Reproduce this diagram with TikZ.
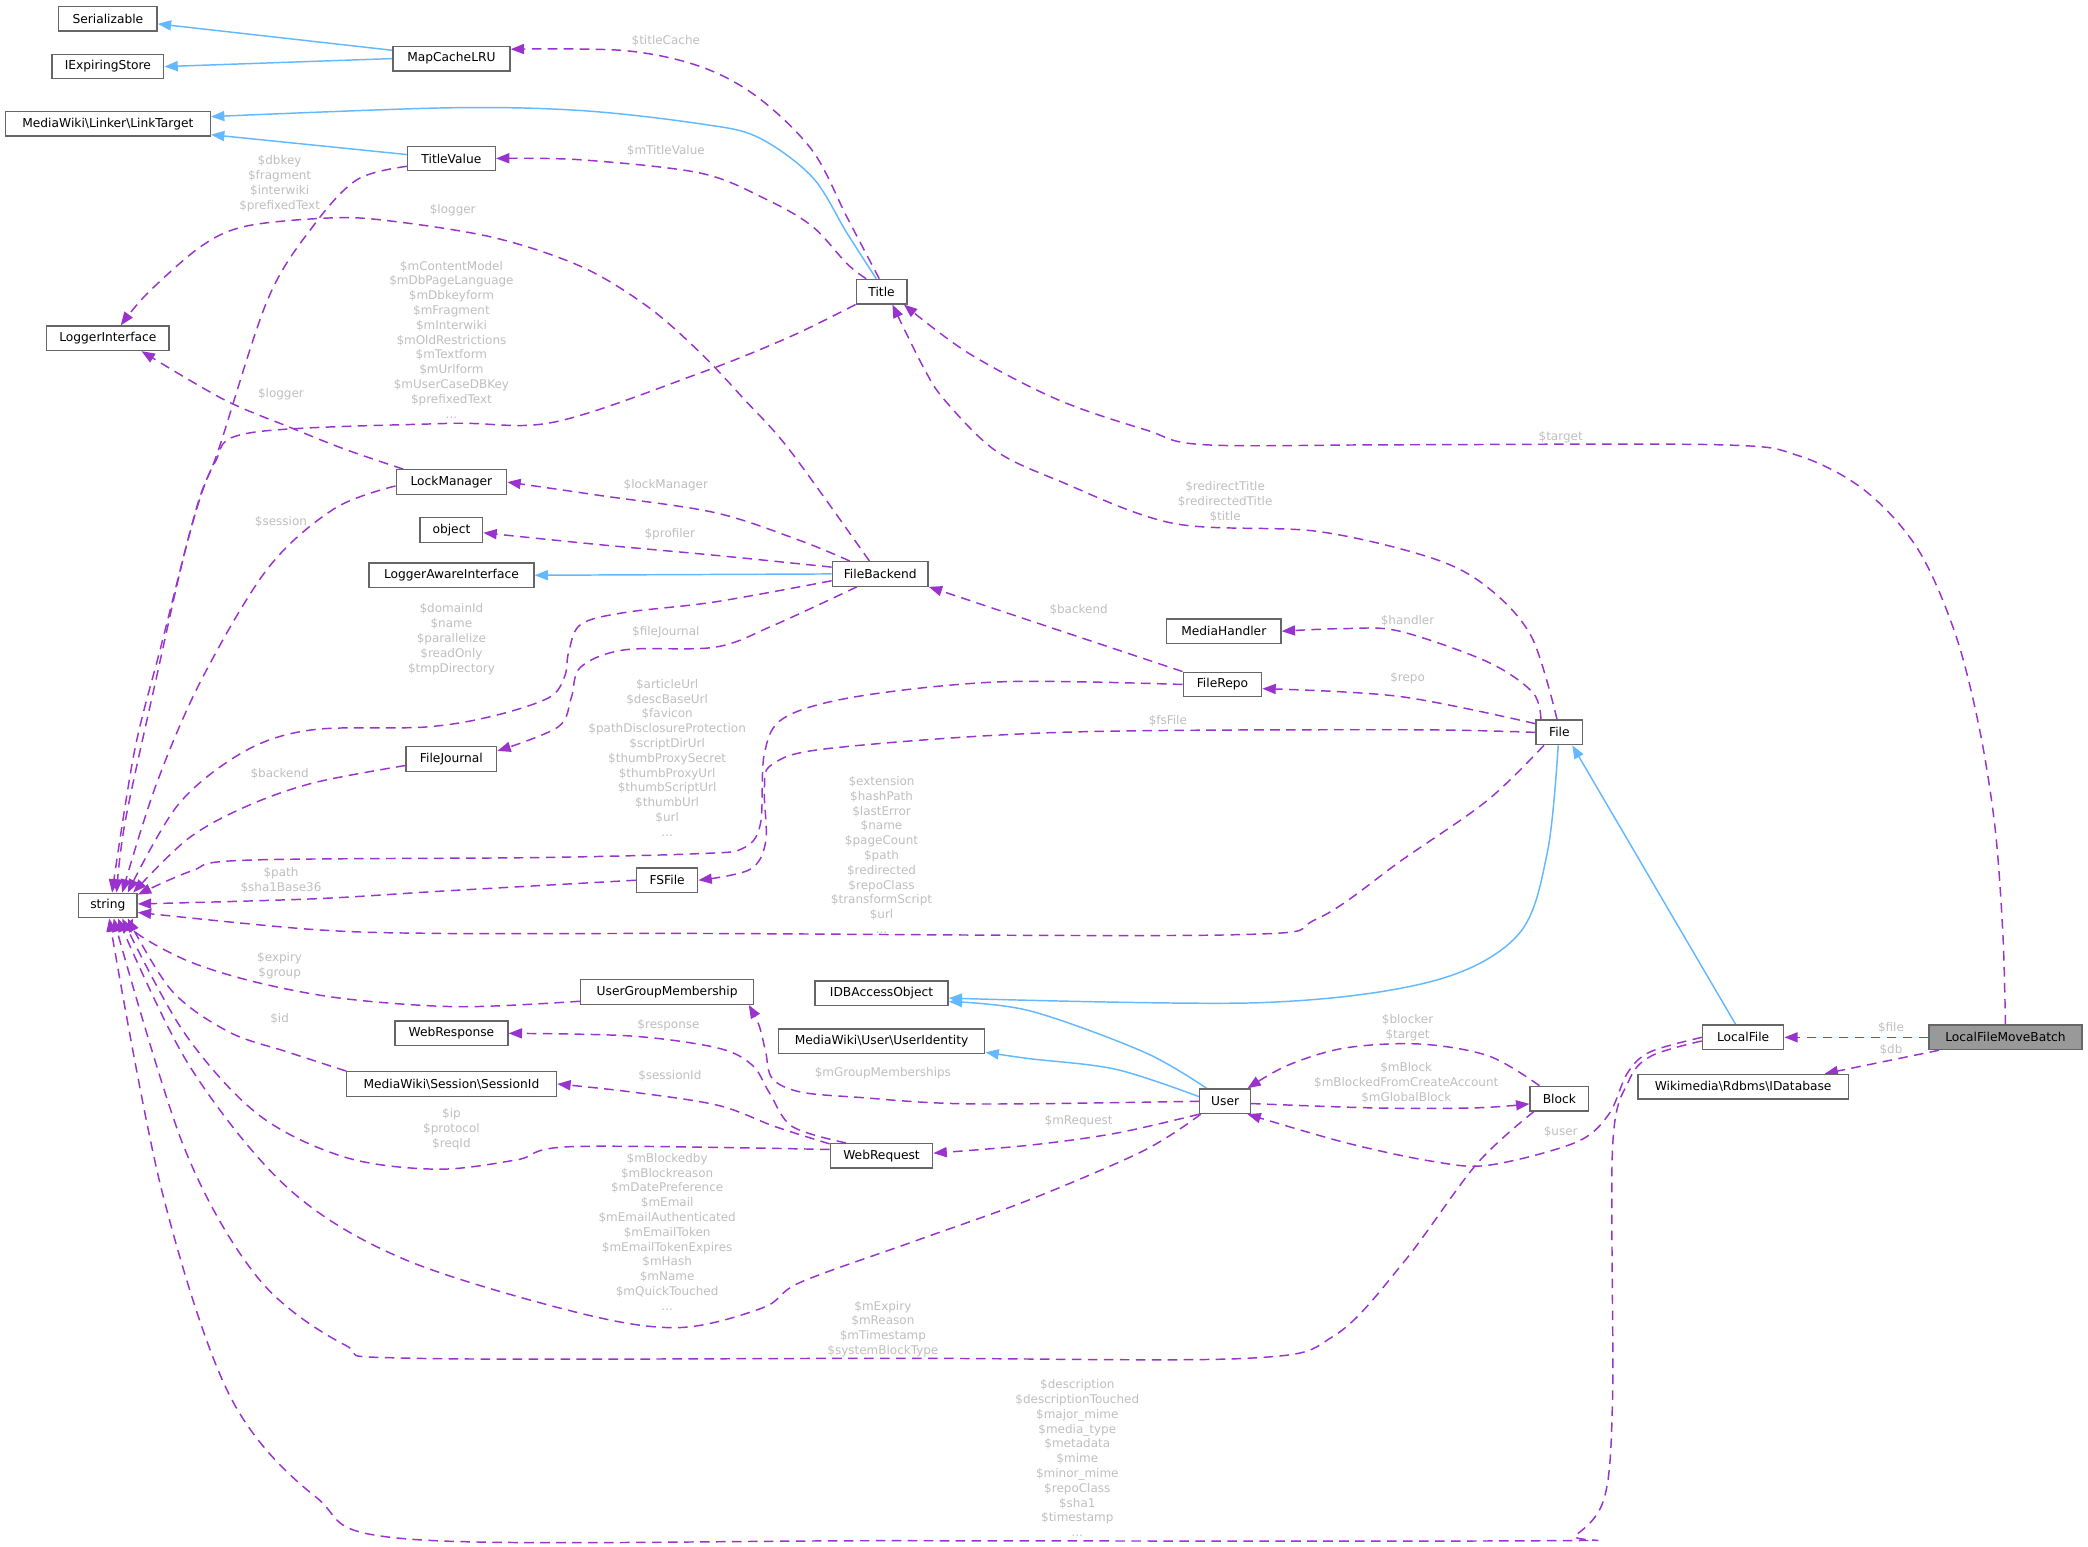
\documentclass[tikz,border=0pt]{standalone}
\usepackage{fontspec}
\setmainfont{DejaVu Sans}
\usetikzlibrary{arrows.meta}
\definecolor{usec}{RGB}{154,50,205}
\definecolor{inhc}{RGB}{99,184,255}
\definecolor{lblc}{RGB}{190,190,190}
\definecolor{bordc}{RGB}{102,102,102}
\definecolor{hlc}{RGB}{153,153,153}
\pgfdeclarelayer{edges}
\pgfsetlayers{edges,main}
\begin{document}
\begin{tikzpicture}[x=0.5pt,y=-0.5pt,
  cls/.style={draw=bordc, line width=0.5pt, fill=white, minimum height=9.2pt, inner sep=0pt, font=\fontsize{4.6}{5.5}\selectfont, text=black},
  lbl/.style={inner sep=0pt, align=center, text=lblc, font=\fontsize{4.5}{5.55}\selectfont},
  usee/.style={draw=usec, line width=0.55pt, dash pattern=on 3.6pt off 2.4pt, -{Triangle[length=5pt,width=3.8pt]}},
  inh/.style={draw=inhc, line width=0.55pt, -{Triangle[length=5pt,width=3.8pt]}},
  sm/.style={smooth, tension=0.55}
]
\useasboundingbox (0,0) rectangle (1568,1161);

% nodes
\node[cls, minimum width=37pt] (ser) at (81,14) {Serializable};
\node[cls, minimum width=42pt] (iexp) at (81,50) {IExpiringStore};
\node[cls, minimum width=44pt] (mapc) at (339,44) {MapCacheLRU};
\node[cls, minimum width=77pt] (lt) at (81,93) {MediaWiki\textbackslash Linker\textbackslash LinkTarget};
\node[cls, minimum width=33pt] (tv) at (339,119) {TitleValue};
\node[cls, minimum width=19pt] (title) at (662,219) {Title};
\node[cls, minimum width=46pt] (li) at (81,254) {LoggerInterface};
\node[cls, minimum width=41.5pt] (lm) at (339,362) {LockManager};
\node[cls, minimum width=23.5pt] (obj) at (339,398) {object};
\node[cls, minimum width=62pt] (lai) at (339,432) {LoggerAwareInterface};
\node[cls, minimum width=36pt] (fb) at (661,431) {FileBackend};
\node[cls, minimum width=43pt] (mh) at (919,474) {MediaHandler};
\node[cls, minimum width=29.5pt] (fr) at (918,514) {FileRepo};
\node[cls, minimum width=17.5pt] (file) at (1171,550) {File};
\node[cls, minimum width=34pt] (fj) at (339,570) {FileJournal};
\node[cls, minimum width=23pt] (fs) at (501,661) {FSFile};
\node[cls, minimum width=22pt] (str) at (81,680) {string};
\node[cls, minimum width=65pt] (ugm) at (501,745) {UserGroupMembership};
\node[cls, minimum width=50pt] (idb) at (662,746) {IDBAccessObject};
\node[cls, minimum width=42.5pt] (wresp) at (339,776) {WebResponse};
\node[cls, minimum width=30.5pt] (lf) at (1309,779) {LocalFile};
\node[cls, minimum width=57.5pt, fill=hlc] (lfmb) at (1506,779) {LocalFileMoveBatch};
\node[cls, minimum width=77.5pt] (uid) at (662,782) {MediaWiki\textbackslash User\textbackslash UserIdentity};
\node[cls, minimum width=79pt] (sid) at (339,814) {MediaWiki\textbackslash Session\textbackslash SessionId};
\node[cls, minimum width=79pt] (idbs) at (1309,816) {Wikimedia\textbackslash Rdbms\textbackslash IDatabase};
\node[cls, minimum width=19pt] (user) at (920,827) {User};
\node[cls, minimum width=22pt] (block) at (1171,825) {Block};
\node[cls, minimum width=38.5pt] (wreq) at (662,868) {WebRequest};

\begin{pgfonlayer}{edges}
% inheritance
\draw[inh] (mapc.172) -- (ser.-6);
\draw[inh] (mapc.west) -- (iexp.east);
\draw[inh] plot[sm] coordinates {(title.112) (636,175) (610,133) (569,103) (526,93) (436,83) (335,81) (lt.4)};
\draw[inh] (tv.175) -- (lt.-6);
\draw[inh] (fb.west) -- (lai.east);
\draw[inh] plot[sm] coordinates {(file.-95) (1162,640) (1140,702) (1075,737) (945,753) (idb.-4)};
\draw[inh] (lf.120) -- (file.-45);
\draw[inh] plot[sm] coordinates {(user.145) (859,790) (773,759) (idb.-7)};
\draw[inh] plot[sm] coordinates {(user.170) (838,803) (773,795) (uid.-6)};

% usage
\draw[usee] plot[sm] coordinates {(title.100) (636,163) (610,113) (569,73) (526,50) (469,38) (mapc.9)};
\draw[usee] plot[sm] coordinates {(title.140) (636,198) (610,170) (576,150) (526,130) (436,120) (tv.east)};
\draw[usee] plot[sm] coordinates {(title.south west) (593,253) (526,280) (416,317) (335,318) (188,325) (161,348) (141,406) (117,511) (94,617) (str.56)};
\draw[usee] plot[sm] coordinates {(tv.190) (268,135) (235,170) (201,225) (164,338) (148,380) (121,485) (101,564) (str.72)};
\draw[usee] plot[sm] coordinates {(fb.130) (593,338) (559,300) (526,265) (486,230) (436,200) (369,178) (285,165) (241,164) (184,170) (151,185) (111,220) (li.45)};
\draw[usee] plot[sm] coordinates {(lm.165) (258,337) (218,321) (168,300) (li.-21)};
\draw[usee] plot[sm] coordinates {(lm.184) (251,382) (201,427) (151,511) (117,590) (str.42)};
\draw[usee] plot[sm] coordinates {(fb.157) (601,406) (537,385) (450,372) (lm.east)};
\draw[usee] plot[sm] coordinates {(fb.172) (537,417) (450,409) (obj.-5)};
\draw[usee] plot[sm] coordinates {(fb.188) (537,452) (469,460) (436,469) (427,490) (424,508) (412,524) (369,538) (319,546) (235,548) (184,564) (134,604) (str.33)};
\draw[usee] plot[sm] coordinates {(fb.209) (580,470) (537,486) (469,488) (436,501) (429,524) (419,546) (fj.10)};
\draw[usee] plot[sm] coordinates {(fj.188) (235,588) (184,606) (141,630) (str.27)};
\draw[usee] (fr.north west) -- (fb.south east);
\draw[usee] plot[sm] coordinates {(fr.west) (752,512) (644,523) (589,539) (574,566) (571,619) (558,637) (526,641) (402,644) (184,646) (144,654) (str.20)};
\draw[usee] plot[sm] coordinates {(file.145) (1151,520) (1117,497) (1051,474) (1011,472) (mh.east)};
\draw[usee] plot[sm] coordinates {(file.160) (1051,523) (fr.-6)};
\draw[usee] plot[sm] coordinates {(file.west) (1051,548) (795,550) (623,562) (580,574) (574,592) (575,632) (563,653) (fs.east)};
\draw[usee] plot[sm] coordinates {(file.100) (1150,478) (1117,441) (1075,419) (989,399) (881,393) (795,361) (747,338) (709,300) (693,275) (title.-50)};
\draw[usee] plot[sm] coordinates {(file.220) (1117,601) (1054,645) (989,690) (925,702) (526,701) (335,701) (235,698) (str.-13)};
\draw[usee] plot[sm] coordinates {(fs.west) (335,669) (235,675) (str.3)};
\draw[usee] plot[sm] coordinates {(lfmb.north) (1504,700) (1498,620) (1486,545) (1468,475) (1440,412) (1400,368) (1350,342) (1290,334) (1051,334) (905,334) (861,323) (794,300) (727,265) (title.-30)};
\draw[usee] (lfmb.west) -- (lf.east);
\draw[usee] (lfmb.191) -- (idbs.9);
\draw[usee] plot[sm] coordinates {(ugm.186) (345,756) (259,750) (194,738) (142,722) (103,701) (str.-27)};
\draw[usee] plot[sm] coordinates {(sid.173) (216,790) (172,775) (129,744) (str.-33)};
\draw[usee] plot[sm] coordinates {(wreq.173) (431,861) (388,871) (328,878) (259,869) (194,837) (138,775) (str.-42)};
\draw[usee] plot[sm] coordinates {(wreq.167) (582,846) (539,830) (474,820) (sid.east)};
\draw[usee] plot[sm] coordinates {(wreq.160) (595,846) (578,821) (565,800) (539,787) (474,778) (wresp.east)};
\draw[usee] plot[sm] coordinates {(user.west) (730,829) (644,824) (601,820) (580,810) (575,790) (570,770) (ugm.-9)};
\draw[usee] plot[sm] coordinates {(user.south west) (838,851) (773,860) (wreq.3)};
\draw[usee] plot[sm] coordinates {(user.208) (859,864) (773,901) (687,932) (601,963) (573,982) (509,997) (431,985) (302,945) (216,892) (142,800) (str.-52)};
\draw[usee] plot[sm] coordinates {(block.147) (1118,793) (1066,784) (1010,787) (967,800) (user.30)};
\draw[usee] plot[sm] coordinates {(user.-5) (1032,832) (1107,832) (block.190)};
\draw[usee] plot[sm] coordinates {(block.207) (1109,874) (1054,948) (1002,1003) (937,1020) (676,1020) (310,1020) (259,1010) (194,960) (138,861) (str.-66)};
\draw[usee] plot[sm] coordinates {(lf.west) (1239,790) (1222,806) (1208,837) (1183,858) (1118,875) (1075,872) (1010,858) (user.-30)};
\draw[usee] plot[sm] coordinates {(lf.185) (1240,793) (1223,812) (1211,861) (1211,1047) (1205,1124) (1183,1153) (1161,1157) (676,1157) (310,1156) (237,1124) (172,1047) (121,892) (str.-84)};
\end{pgfonlayer}

% labels
\node[lbl] (l1) at (500,31) {\$titleCache};
\node[lbl] (l2) at (500,113) {\$mTitleValue};
\node[lbl] (l3) at (210,138) {\$dbkey\\\$fragment\\\$interwiki\\\$prefixedText};
\node[lbl] (l4) at (340,158) {\$logger};
\node[lbl] (l5) at (339,255) {\$mContentModel\\\$mDbPageLanguage\\\$mDbkeyform\\\$mFragment\\\$mInterwiki\\\$mOldRestrictions\\\$mTextform\\\$mUrlform\\\$mUserCaseDBKey\\\$prefixedText\\...};
\node[lbl] (l6) at (211,296) {\$logger};
\node[lbl] (l7) at (211,392) {\$session};
\node[lbl] (l8) at (500,364) {\$lockManager};
\node[lbl] (l9) at (503,401) {\$profiler};
\node[lbl] (l10) at (339,480) {\$domainId\\\$name\\\$parallelize\\\$readOnly\\\$tmpDirectory};
\node[lbl] (l11) at (500,475) {\$fileJournal};
\node[lbl] (l12) at (210,581) {\$backend};
\node[lbl] (l13) at (810,458) {\$backend};
\node[lbl] (l14) at (501,569) {\$articleUrl\\\$descBaseUrl\\\$favicon\\\$pathDisclosureProtection\\\$scriptDirUrl\\\$thumbProxySecret\\\$thumbProxyUrl\\\$thumbScriptUrl\\\$thumbUrl\\\$url\\...};
\node[lbl] (l15) at (1057,466) {\$handler};
\node[lbl] (l16) at (1057,509) {\$repo};
\node[lbl] (l17) at (877,541) {\$fsFile};
\node[lbl] (l18) at (920,377) {\$redirectTitle\\\$redirectedTitle\\\$title};
\node[lbl] (l19) at (662,642) {\$extension\\\$hashPath\\\$lastError\\\$name\\\$pageCount\\\$path\\\$redirected\\\$repoClass\\\$transformScript\\\$url\\...};
\node[lbl] (l20) at (211,661) {\$path\\\$sha1Base36};
\node[lbl] (l21) at (1172,328) {\$target};
\node[lbl] (l22) at (1420,772) {\$file};
\node[lbl] (l23) at (1420,788) {\$db};
\node[lbl] (l24) at (210,725) {\$expiry\\\$group};
\node[lbl] (l25) at (210,765) {\$id};
\node[lbl] (l26) at (502,770) {\$response};
\node[lbl] (l27) at (503,808) {\$sessionId};
\node[lbl] (l28) at (339,848) {\$ip\\\$protocol\\\$reqId};
\node[lbl] (l29) at (663,806) {\$mGroupMemberships};
\node[lbl] (l30) at (810,842) {\$mRequest};
\node[lbl] (l31) at (501,925) {\$mBlockedby\\\$mBlockreason\\\$mDatePreference\\\$mEmail\\\$mEmailAuthenticated\\\$mEmailToken\\\$mEmailTokenExpires\\\$mHash\\\$mName\\\$mQuickTouched\\...};
\node[lbl] (l32) at (1057,772) {\$blocker\\\$target};
\node[lbl] (l33) at (1056,813) {\$mBlock\\\$mBlockedFromCreateAccount\\\$mGlobalBlock};
\node[lbl] (l34) at (663,998) {\$mExpiry\\\$mReason\\\$mTimestamp\\\$systemBlockType};
\node[lbl] (l35) at (1172,850) {\$user};
\node[lbl] (l36) at (809,1095) {\$description\\\$descriptionTouched\\\$major\_mime\\\$media\_type\\\$metadata\\\$mime\\\$minor\_mime\\\$repoClass\\\$sha1\\\$timestamp\\...};
\end{tikzpicture}
\end{document}
